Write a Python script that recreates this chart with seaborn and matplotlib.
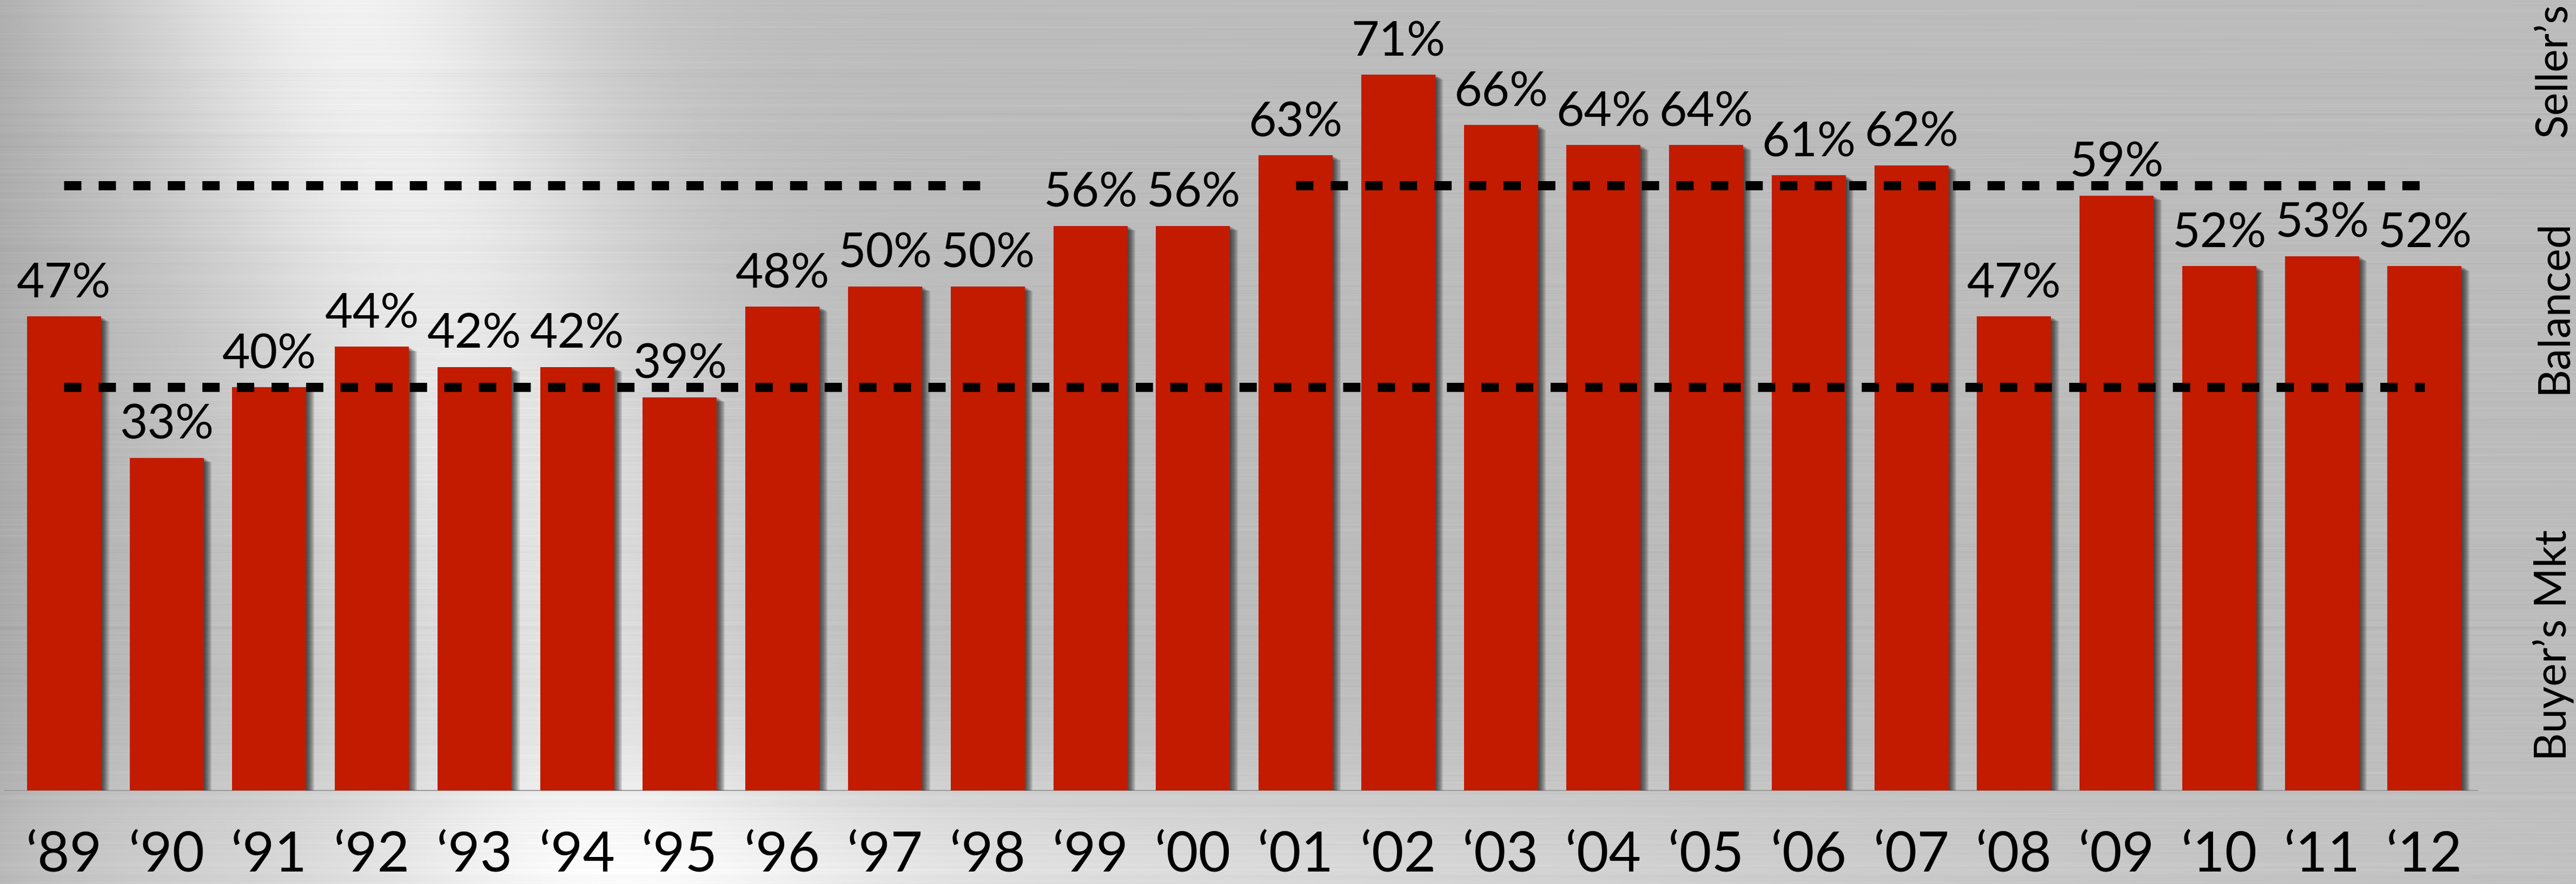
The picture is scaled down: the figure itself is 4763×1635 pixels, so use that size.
import numpy as np
import pandas as pd
import matplotlib
matplotlib.use("Agg")
import matplotlib.pyplot as plt
import matplotlib.patheffects as pe
import seaborn as sns

# ---- data -------------------------------------------------------------
years = ["‘89", "‘90", "‘91", "‘92", "‘93", "‘94", "‘95", "‘96", "‘97", "‘98",
         "‘99", "‘00", "‘01", "‘02", "‘03", "‘04", "‘05", "‘06", "‘07", "‘08",
         "‘09", "‘10", "‘11", "‘12"]
share = [47, 33, 40, 44, 42, 42, 39, 48, 50, 50,
         56, 56, 63, 71, 66, 64, 64, 61, 62, 47,
         59, 52, 53, 52]

buyers_limit = 40          # below: buyer's market
sellers_limit = 60         # above: seller's market
sellers_spans = [("‘89", "‘98"), ("‘01", "‘12")]
zone_names = ["Buyer’s Mkt", "Balanced", "Seller’s"]

df = pd.DataFrame({"year": years, "share": share})

# ---- canvas -----------------------------------------------------------
W, H = 4763, 1635
DPI = 100
sns.set_style("white")
plt.rcParams["font.family"] = ["Lato", "DejaVu Sans"]

fig = plt.figure(figsize=(W / DPI, H / DPI), dpi=DPI)

# brushed-metal backdrop
yy = np.arange(H, dtype=np.float32)[:, None]
xx = np.arange(W, dtype=np.float32)[None, :]
img = np.full((H, W), 0.735, dtype=np.float32)
cx = 640 + 0.30 * yy
img += 0.21 * np.exp(-((xx - cx) / 430.0) ** 2) * (1 - 0.45 * (yy / H))
img += 0.12 * np.exp(-((xx - 1300) / 1500.0) ** 2) * np.exp(-((yy - H) / 230.0) ** 2)
img += 0.05 * np.exp(-((xx - 3000) / 1800.0) ** 2) * np.exp(-((yy - H) / 200.0) ** 2)
img -= 0.07 * np.exp(-xx / 200.0)


def hash_rows(seed, n):
    v = np.sin(np.arange(n) * 12.9898 + seed) * 43758.5453
    return v - np.floor(v) - 0.5


r1 = hash_rows(78.233, H)
r1 = np.convolve(r1, np.ones(3) / 3, mode="same")
r2 = hash_rows(11.71, H)
r3 = hash_rows(39.17, H) + 0.5
mod = 0.55 + 0.45 * np.sin(xx / (350 + 500 * r3[:, None]) + 6.283 * r2[:, None])
img += (0.07 * r1[:, None]) * mod
img = np.clip(img, 0, 1)
fig.figimage(img, xo=0, yo=0, cmap="gray", vmin=0, vmax=1, origin="upper", zorder=-10)

# ---- bars -------------------------------------------------------------
ax = fig.add_axes([8 / W, (H - 1462) / H, 4573 / W, 1462 / H])
ax.set_zorder(1)
ax.patch.set_alpha(0)

sns.barplot(data=df, x="year", y="share", color="#C21B00", saturation=1,
            width=0.722, ax=ax, zorder=2, linewidth=0, edgecolor="none")

# soft drop shadow to the lower right of each bar
shadow = [pe.SimplePatchShadow(offset=(o, -0.6 * o), shadow_rgbFace="black", alpha=0.12)
          for o in (1.5, 3.0, 4.5, 6.0, 7.5, 9.0, 10.5)]
for p in ax.patches:
    p.set_linewidth(0)
    p.set_path_effects(shadow + [pe.Normal()])

ax.set_xlim(-0.582, 23.517)
ax.set_ylim(0, 1462 / 18.65)

# market thresholds
pos = {y: i for i, y in enumerate(years)}
dash_kw = dict(color="black", lw=12.24, dashes=(1.88, 1.88),
               dash_capstyle="butt", solid_capstyle="butt", zorder=4)
ax.plot([pos[years[0]], pos[years[-1]]], [buyers_limit] * 2, **dash_kw)
for a, b in sellers_spans:
    ax.plot([pos[a], pos[b]], [sellers_limit] * 2, **dash_kw)

# value labels
for i, v in enumerate(share):
    ax.annotate(f"{v}%", xy=(i, v), xytext=(0, 25), textcoords="offset points",
                ha="center", va="baseline", fontsize=64, color="black", zorder=5)

# zone labels on the right edge
zone_y = [14.4, 48.0, 78.1]
zone_ha = ["center", "center", "right"]
for name, yv, ha in zip(zone_names, zone_y, zone_ha):
    ax.text(24.38, yv, name, rotation=90, rotation_mode="anchor",
            ha=ha, va="baseline", fontsize=58, color="black", clip_on=False)

# axes styling
for s in ("left", "right", "top"):
    ax.spines[s].set_visible(False)
ax.spines["bottom"].set_color("#9c9c9c")
ax.spines["bottom"].set_linewidth(1.6)
ax.spines["bottom"].set_zorder(1)
ax.set_yticks([])
ax.set_xlabel("")
ax.set_ylabel("")
ax.tick_params(axis="x", length=0, pad=108, labelsize=74, labelcolor="black")
for lbl in ax.get_xticklabels():
    lbl.set_verticalalignment("baseline")

fig.savefig("out.png", dpi=DPI)
